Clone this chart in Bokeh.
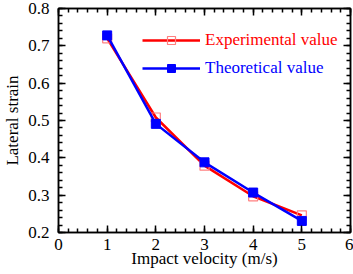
from bokeh.plotting import figure
from bokeh.models import (FixedTicker, LinearAxis, Legend, LegendItem, Range1d)
from bokeh.embed import file_html
from bokeh.resources import INLINE

velocity = [1, 2, 3, 4, 5]
experimental = [0.72, 0.508, 0.379, 0.297, 0.246]
theoretical = [0.728, 0.491, 0.388, 0.307, 0.231]
x_ticks = [0, 1, 2, 3, 4, 5, 6]
y_ticks = [0.2, 0.3, 0.4, 0.5, 0.6, 0.7, 0.8]

FONT = "Liberation Serif"
FS = "17px"

p = figure(width=353, height=274, output_backend="svg", toolbar_location=None,
           x_range=Range1d(0, 6), y_range=Range1d(0.2, 0.8),
           min_border_left=54, min_border_right=3, min_border_top=8,
           min_border_bottom=42)
p.xgrid.visible = False
p.ygrid.visible = False
p.outline_line_color = "black"
p.outline_line_width = 1.5

x_minor = [i / 5 for i in range(0, 31)]
y_minor = [0.2 + i * 0.02 for i in range(0, 31)]

def style(ax):
    ax.axis_line_width = 1.5
    ax.axis_line_color = "black"
    ax.major_tick_in = 7
    ax.major_tick_out = 0
    ax.minor_tick_in = 4
    ax.minor_tick_out = 0
    ax.major_tick_line_width = 1.5
    ax.minor_tick_line_width = 1.5
    ax.major_tick_line_color = "black"
    ax.minor_tick_line_color = "black"
    ax.major_label_text_font = FONT
    ax.major_label_text_font_size = FS
    ax.major_label_text_color = "black"
    ax.axis_label_text_font = FONT
    ax.axis_label_text_font_style = "normal"
    ax.axis_label_text_font_size = FS
    ax.axis_label_text_color = "black"

p.xaxis.ticker = FixedTicker(ticks=x_ticks, minor_ticks=x_minor)
p.yaxis.ticker = FixedTicker(ticks=y_ticks, minor_ticks=y_minor)
p.xaxis.axis_label = "Impact velocity (m/s)"
p.yaxis.axis_label = "Lateral strain"
style(p.xaxis[0])
style(p.yaxis[0])
p.xaxis.major_label_standoff = 6
p.yaxis.major_label_standoff = 9
p.xaxis.axis_label_standoff = -4
p.yaxis.axis_label_standoff = 3
p.yaxis.major_label_overrides = {v: f"{v:.1f}" for v in y_ticks}

top = LinearAxis(ticker=FixedTicker(ticks=x_ticks, minor_ticks=x_minor))
style(top)
top.major_label_text_font_size = "0px"
top.major_label_standoff = 0
top.major_label_overrides = {v: "" for v in x_ticks}
p.add_layout(top, "above")
right = LinearAxis(ticker=FixedTicker(ticks=y_ticks, minor_ticks=y_minor))
style(right)
right.major_label_text_font_size = "0px"
right.major_label_standoff = 0
right.major_label_overrides = {v: "" for v in y_ticks}
p.add_layout(right, "right")

r_line = p.line(velocity, experimental, line_color="#ff0000", line_width=2.5)
r_mark = p.scatter(velocity, experimental, marker="square", size=9,
                   fill_color=None, line_color="#ff8080", line_width=1.2)
b_line = p.line(velocity, theoretical, line_color="#0000ff", line_width=2.5)
b_mark = p.scatter(velocity, theoretical, marker="square", size=9,
                   fill_color="#0000ff", line_color="#0000ff")

def mk_legend(items, color, loc):
    lg = Legend(items=items, location=loc, border_line_color=None,
                background_fill_alpha=0, label_text_font=FONT,
                label_text_font_size=FS, label_text_color=color,
                glyph_width=58, glyph_height=20, label_height=20,
                label_standoff=5, padding=0, margin=0, spacing=0)
    return lg

lg1 = mk_legend([LegendItem(label="Experimental value", renderers=[r_line, r_mark])],
                "#ff0000", (84, 182))
lg2 = mk_legend([LegendItem(label="Theoretical value", renderers=[b_line, b_mark])],
                "#0000ff", (84, 154))
p.add_layout(lg1, "center")
p.add_layout(lg2, "center")

open("out.html", "w").write(file_html(p, INLINE))
